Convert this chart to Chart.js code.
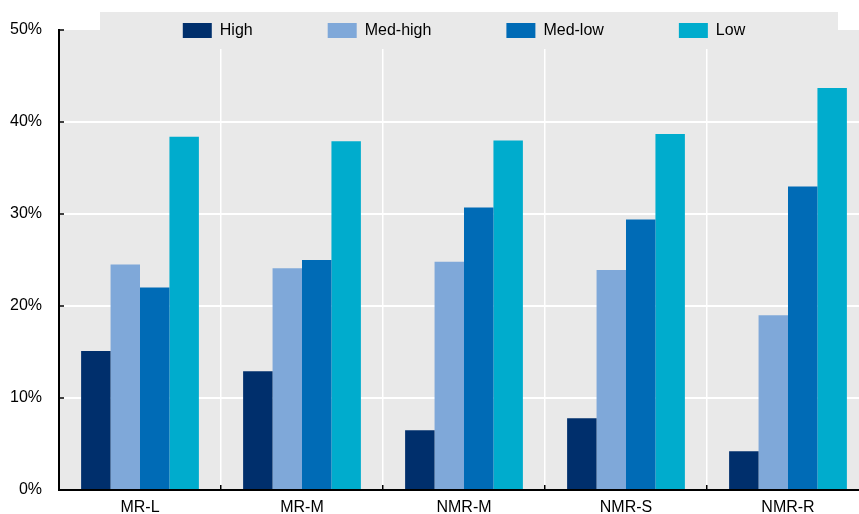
<!DOCTYPE html>
<html>
<head>
<meta charset="utf-8">
<script src="https://cdn.jsdelivr.net/npm/chart.js@4/dist/chart.umd.min.js"></script>
<style>
html, body { margin: 0; padding: 0; overflow: hidden; background: #fff; }
#wrap { width: 870px; height: 514px; }
canvas { display: block; }
</style>
</head>
<body>
<div id="wrap"><canvas id="c" width="870" height="514"></canvas></div>
<script>
const categories = ['MR-L', 'MR-M', 'NMR-M', 'NMR-S', 'NMR-R'];
const seriesNames = ['High', 'Med-high', 'Med-low', 'Low'];
const high    = [15.1, 12.9, 6.5, 7.8, 4.2];
const medHigh = [24.5, 24.1, 24.8, 23.9, 19.0];
const medLow  = [22.0, 25.0, 30.7, 29.4, 33.0];
const low     = [38.4, 37.9, 38.0, 38.7, 43.7];
const yTicks  = [0, 10, 20, 30, 40, 50];

const colors = ['#002F6C', '#7FA8D9', '#006BB6', '#00ACCD'];
const FONT = '"Liberation Sans", Arial, sans-serif';
const FS = 16;
const GRAY = '#e9e9e9';

const bgPlugin = {
  id: 'bg',
  beforeDraw(chart) {
    const {ctx, chartArea: a} = chart;
    ctx.save();
    ctx.fillStyle = '#fff';
    ctx.fillRect(0, 0, chart.width, chart.height);
    ctx.fillStyle = GRAY;
    ctx.fillRect(a.left, a.top, a.right - a.left, a.bottom - a.top);
    ctx.restore();
  },
  afterLayout(chart) {
    const lg = chart.legend, a = chart.chartArea;
    if (!lg) return;
    const pad = lg.options.labels.padding;
    lg.left = a.left;
    lg.right = a.right;
    lg.width = a.right - a.left;
    lg.top = 22.5 - pad;
    lg.bottom = 49;
    lg.height = lg.bottom - lg.top;
  },
  beforeDatasetsDraw(chart) {
    const {ctx} = chart;
    ctx.save();
    ctx.fillStyle = GRAY;
    ctx.fillRect(100, 12, 738, 37);
    ctx.restore();
    if (chart.legend) chart.legend.draw(chart.chartArea);
  }
};

const data = {
  labels: categories,
  datasets: [high, medHigh, medLow, low].map((vals, i) => ({
    label: seriesNames[i],
    data: vals,
    backgroundColor: colors[i],
    borderWidth: 0,
    categoryPercentage: 0.727,
    barPercentage: 1.0
  }))
};

new Chart(document.getElementById('c'), {
  type: 'bar',
  data,
  plugins: [bgPlugin],
  options: {
    responsive: false,
    animation: false,
    devicePixelRatio: 1,
    layout: { padding: { left: 0, right: 1, top: 29, bottom: 0 } },
    plugins: {
      tooltip: { enabled: false },
      legend: {
        position: 'top',
        fullSize: false,
        align: 'center',
        maxHeight: 1,
        labels: {
          boxWidth: 29,
          boxHeight: 15,
          padding: 75,
          color: '#000',
          font: { family: FONT, size: FS }
        }
      }
    },
    scales: {
      x: {
        offset: true,
        grid: {
          offset: true,
          color: '#ffffff',
          lineWidth: 1.5,
          drawTicks: true,
          tickLength: -5,
          tickColor: '#000',
          tickWidth: 1.5
        },
        border: { display: true, color: '#000', width: 2 },
        ticks: {
          color: '#000',
          padding: 13,
          font: { family: FONT, size: FS },
          maxRotation: 0
        },
        afterFit(scale) { scale.height = 24; scale.paddingLeft = 0; scale.paddingRight = 0; }
      },
      y: {
        min: 0,
        max: 50,
        afterBuildTicks(scale) { scale.ticks = yTicks.map(v => ({ value: v })); },
        grid: {
          color: (ctx) => (ctx.tick && ctx.tick.value === 50) ? 'rgba(0,0,0,0)' : '#ffffff',
          lineWidth: 2,
          drawTicks: true,
          tickLength: -5,
          tickColor: '#000',
          tickWidth: 1.5
        },
        border: { display: true, color: '#000', width: 2 },
        ticks: {
          color: '#000',
          padding: 22,
          font: { family: FONT, size: FS },
          callback: (v) => v + '%'
        },
        afterFit(scale) { scale.width = 59; scale.paddingTop = 0; scale.paddingBottom = 0; }
      }
    }
  }
});
</script>
</body>
</html>
